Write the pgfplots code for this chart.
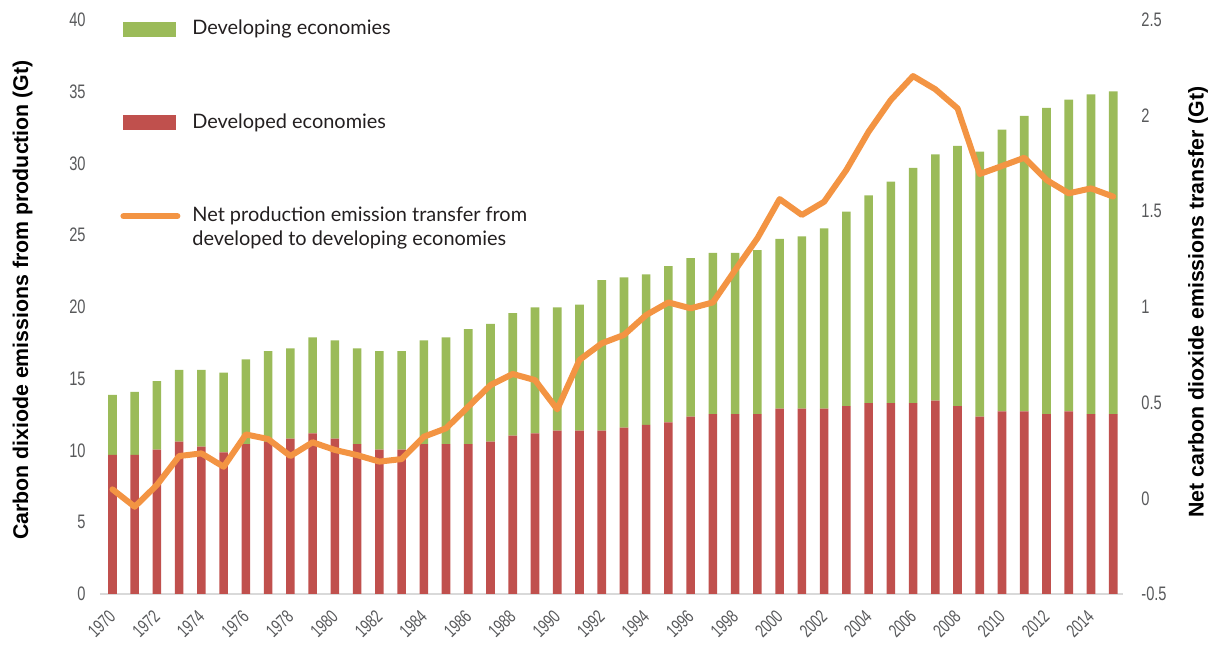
\documentclass[border=0pt]{standalone}
\usepackage{fontspec}
\usepackage{graphicx}
\setmainfont{Lato}
\newfontfamily\tickfont{Liberation Sans}
\newfontfamily\labfont{Liberation Sans}
\usepackage{pgfplots}
\pgfplotsset{compat=1.18}
\usepackage{pgfplotstable}
\definecolor{devgreen}{HTML}{9BBB59}
\definecolor{devred}{HTML}{C0504D}
\definecolor{netorange}{HTML}{F39443}
\definecolor{tickgray}{HTML}{58595B}
\definecolor{axisgray}{HTML}{D9D9D9}
\definecolor{legtext}{HTML}{231F20}
\pgfplotstableread{
year dev dvg net
1970 9.69 4.18 0.047
1971 9.69 4.39 -0.044
1972 10.06 4.78 0.070
1973 10.62 4.99 0.221
1974 10.27 5.34 0.235
1975 9.87 5.55 0.165
1976 10.45 5.90 0.334
1977 10.60 6.33 0.310
1978 10.82 6.30 0.221
1979 11.20 6.69 0.293
1980 10.82 6.86 0.253
1981 10.45 6.67 0.226
1982 10.06 6.87 0.192
1983 10.06 6.87 0.205
1984 10.45 7.23 0.322
1985 10.45 7.44 0.366
1986 10.45 8.00 0.479
1987 10.62 8.20 0.592
1988 11.03 8.55 0.650
1989 11.20 8.78 0.618
1990 11.38 8.60 0.465
1991 11.38 8.78 0.723
1992 11.38 10.50 0.810
1993 11.59 10.48 0.854
1994 11.78 10.50 0.958
1995 11.96 10.88 1.024
1996 12.36 11.05 0.993
1997 12.54 11.24 1.024
1998 12.54 11.24 1.193
1999 12.54 11.43 1.359
2000 12.91 11.83 1.564
2001 12.91 12.02 1.481
2002 12.91 12.57 1.550
2003 13.10 13.54 1.716
2004 13.31 14.47 1.916
2005 13.31 15.42 2.082
2006 13.31 16.38 2.207
2007 13.47 17.17 2.138
2008 13.10 18.12 2.038
2009 12.36 18.46 1.695
2010 12.73 19.63 1.737
2011 12.73 20.58 1.780
2012 12.54 21.33 1.664
2013 12.73 21.72 1.594
2014 12.54 22.28 1.620
2015 12.54 22.49 1.577
}\datatable
\begin{document}
\begin{tikzpicture}
\useasboundingbox (-50bp,-26bp) rectangle (556.5bp,297bp);
\begin{axis}[
  scale only axis, width=511.5bp, height=287bp,
  xmin=1969.44, xmax=2015.44, ymin=0, ymax=40,
  axis x line*=bottom, axis y line*=left,
  x axis line style={draw=axisgray, line width=1bp, -},
  y axis line style={draw=none},
  major tick length=0pt,
  xtick={1970,1972,...,2014}, ytick={0,5,...,40},
  ticklabel style={font=\tickfont\fontsize{9.8}{10}\selectfont, text=tickgray},
  /pgf/number format/assume math mode=true,
  /pgf/number format/1000 sep={},
  xticklabel={\scalebox{0.72}[1]{\pgfmathprintnumber{\tick}}},
  yticklabel={\scalebox{0.75}[1]{\pgfmathprintnumber{\tick}}},
  xticklabel style={rotate=45, anchor=east, inner sep=0pt, font=\tickfont\fontsize{9.3}{10}\selectfont},
  xticklabel shift=9.6bp,
  yticklabel style={anchor=east, inner sep=0pt},
  yticklabel shift=7bp,
  ybar stacked, bar width=4.3bp,
  ylabel={Carbon dixiode emissions from production (Gt)},
  ylabel style={at={(rel axis cs:-0.0757,0.512)}, anchor=center, font=\labfont\bfseries\fontsize{10.7}{12}\selectfont},
]
\addplot[fill=devred, draw=none] table[x=year, y=dev]{\datatable};
\addplot[fill=devgreen, draw=none] table[x=year, y=dvg]{\datatable};
\end{axis}
\begin{axis}[
  scale only axis, width=511.5bp, height=287bp,
  xmin=1969.44, xmax=2015.44, ymin=-0.5, ymax=2.5,
  axis x line=none, axis y line*=right,
  y axis line style={draw=none},
  major tick length=0pt,
  ytick={-0.5,0,0.5,1,1.5,2,2.5},
  ticklabel style={font=\tickfont\fontsize{9.8}{10}\selectfont, text=tickgray},
  /pgf/number format/assume math mode=true,
  yticklabel={\scalebox{0.75}[1]{\pgfmathprintnumber{\tick}}},
  yticklabel style={anchor=west, inner sep=0pt},
  yticklabel shift=9bp,
  ylabel={Net carbon dioxide emissions transfer (Gt)},
  ylabel style={at={(rel axis cs:1.0733,0.509)}, anchor=center, rotate=0, font=\labfont\bfseries\fontsize{10.7}{12}\selectfont},
  legend cell align=left,
  legend style={at={(rel axis cs:0,1)}, anchor=north west, xshift=10bp, yshift=0.4bp,
    draw=none, fill=none, inner sep=0pt, row sep=37.6bp, column sep=6bp,
    nodes={inner sep=0pt, text depth=0.2em},
    cells={align=left},
    font=\fontsize{10}{12}\selectfont, text=legtext},
]
\addlegendimage{legend image code/.code={\fill[devgreen] (0bp,-3.5bp) rectangle (26bp,3.5bp);}}
\addlegendentry{Developing economies}
\addlegendimage{legend image code/.code={\fill[devred] (0bp,-3.5bp) rectangle (26bp,3.5bp);}}
\addlegendentry{Developed economies}
\addplot[netorange, line width=3bp, line join=round, line cap=round,
  legend image code/.code={\draw[netorange, line width=3bp, line cap=round] (0bp,6.2bp) -- (27bp,6.2bp);}]
  table[x=year, y=net]{\datatable};
\addlegendentry{Net production emission transfer from\\developed to developing economies}
\end{axis}
\end{tikzpicture}
\end{document}
